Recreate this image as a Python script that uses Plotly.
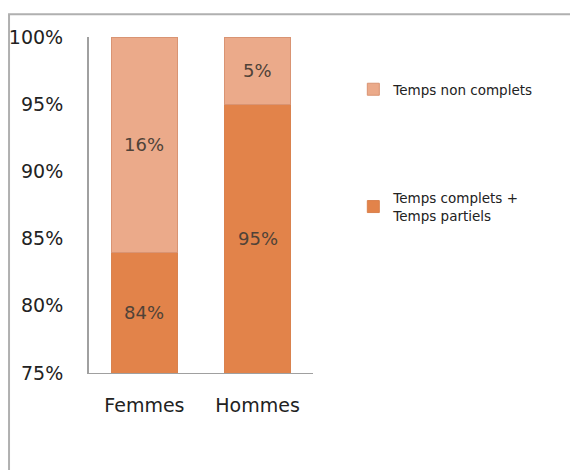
import plotly.graph_objects as go

categories = ["Femmes", "Hommes"]
complets = [84, 95]        # Temps complets + Temps partiels
non_complets = [16, 5]     # Temps non complets
tick_vals = [75, 80, 85, 90, 95, 100]
tick_text = ["75%", "80%", "85%", "90%", "95%", "100%"]

dark = "#E2834A"
light = "#EBAA8A"
font = "DejaVu Sans, sans-serif"

fig = go.Figure()
fig.add_bar(x=categories, y=complets, name="Temps complets +<br>Temps partiels",
            marker=dict(color=dark, line=dict(color="#D9824E", width=1)),
            width=0.58, legendgroup="a", legendrank=2, hoverinfo="skip")
fig.add_bar(x=categories, y=non_complets, name="Temps non complets",
            marker=dict(color=light, line=dict(color="#D99473", width=1)),
            width=0.58, legendgroup="b", legendrank=1, hoverinfo="skip")

for i, c in enumerate(categories):
    lo = 75
    fig.add_annotation(x=c, y=(lo + complets[i]) / 2, text=f"{complets[i]}%",
                       showarrow=False, font=dict(size=18, color="#4f4238", family=font))
    fig.add_annotation(x=c, y=complets[i] + non_complets[i] / 2, text=f"{non_complets[i]}%",
                       showarrow=False, font=dict(size=18, color="#4f4238", family=font))

fig.add_shape(type="rect", xref="paper", yref="paper",
              x0=-0.357, x1=2.5, y0=-1.0, y1=1.068,
              line=dict(color="#b0b0b0", width=2), layer="below")

fig.update_layout(
    barmode="stack",
    width=578, height=470,
    margin=dict(l=81, r=273, t=29, b=105, autoexpand=False),
    paper_bgcolor="white", plot_bgcolor="white",
    font=dict(family=font, size=18, color="#222"),
    showlegend=True,
    legend=dict(x=1.18, y=0.89, xanchor="left", yanchor="top",
                traceorder="grouped", tracegroupgap=88,
                font=dict(size=13.5, color="#222"), itemwidth=30,
                bgcolor="rgba(0,0,0,0)"),
    xaxis=dict(range=[-0.49, 1.49], showline=True, linecolor="#a0a0a0", linewidth=1,
               ticks="", tickfont=dict(size=19), showgrid=False, ticklabelstandoff=15),
    yaxis=dict(range=[75, 100], tickvals=tick_vals, ticktext=tick_text,
               showline=True, linecolor="#a0a0a0", linewidth=2, ticks="",
               showgrid=False, tickfont=dict(size=19), ticklabelstandoff=20),
)

fig.write_html("out.html")
